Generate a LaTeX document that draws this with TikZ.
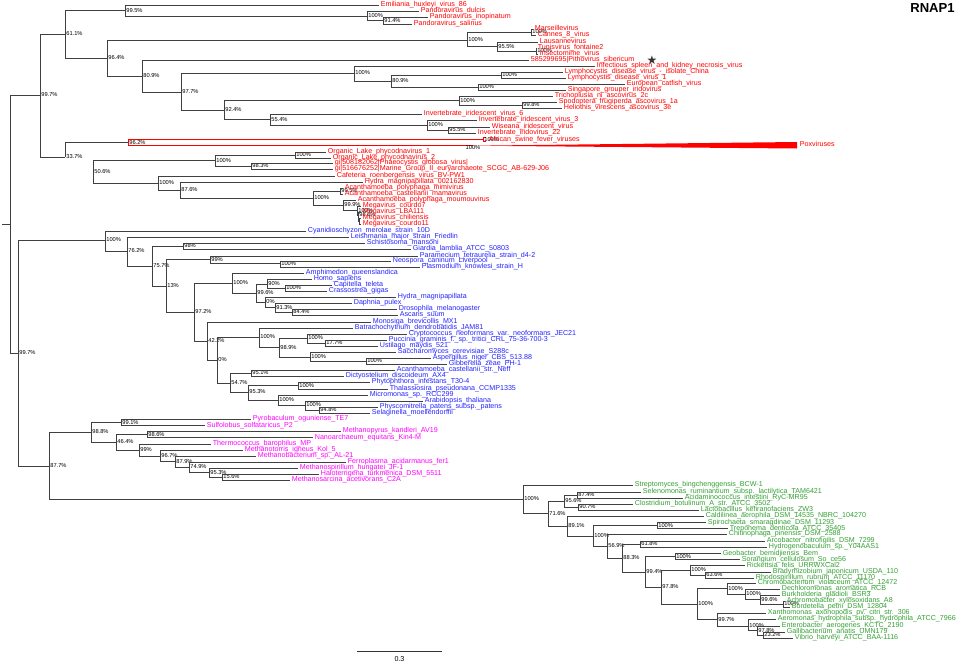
\documentclass[tikz,border=0pt]{standalone}
\usepackage{fontspec}
\setmainfont{Liberation Sans}
\newfontfamily\symfont{DejaVu Sans}
\usepackage{tikz}
\definecolor{Virus}{HTML}{FF0000}
\definecolor{Euk}{HTML}{2424FF}
\definecolor{Arch}{HTML}{FF00FF}
\definecolor{Bact}{HTML}{33A033}
\definecolor{Branch}{HTML}{404040}

\begin{document}
\begin{tikzpicture}[x=0.75pt,y=-0.75pt,
  br/.style={draw=Branch,line width=0.7pt},
  leaf/.style={anchor=west,inner xsep=1.2pt,inner ysep=0pt,text height=3.9pt,text depth=1pt,font=\fontsize{5.35}{6}\selectfont},
  bs/.style={anchor=west,inner sep=0.8pt,font=\fontsize{4.3}{5}\selectfont}]

\fill[white] (0,0) rectangle (965,664);
\useasboundingbox (0,0) rectangle (965,664);

% internal nodes (x of the split, y of the branch) with bootstrap support
\coordinate (base) at (2,224);
\coordinate (root) at (10,224);
\foreach \nm/\px/\py/\lab in {
  nA/40/95/99.7, nB/65/34/61.1, nC/125/10.5/99.5, nPan/367/16/100, nPan2/383/20.5/91.4,
  nD/107/58/96.4, nMar/467/40/100, nMar1/531/32/100, nLau/497/46.5/95.5, nTun/536/51/100,
  nE/142/76/80.9, nF/181/92/97.7, nIri/354/73/100, nLym/391/81/80.9, nLcd/501/75/100,
  nEcv/478/87/100, nG/224/110/92.4, nAsc/459/100.5/100, nAsc2/522/105/99.8,
  nH/270/119.5/55.4, nIiv/427/125/100, nWis/448/130/95.5,
  nK/65/157/33.7, nL/93/172/50.6, nPhy/215/160.5/100, nOlp/295/155/100, nPgv/251/166/98.3,
  nMim/158/183/100, nHyv/180/190/87.6, nMeg/313/198/100, nMam/340/191/99.5,
  nMou/343/205/99.9, nMv/357/210.5/100, nMv2/358/215/98.6,
  nR/18/353/99.7, nEuk/105/240/100, nT/127/251/76.2, nU/152/266/75.7, nSch/183/246/98,
  nV/166/286/13, nPar/210/259.5/99, nApi/280/263.5/100, nW/194/312/97.2,
  nMet/232/283/100, nBil/256/293/99.6, nHom/267/284/90, nCap/285/288/100,
  nHyd/265/302/0, nDap/275/307.5/91.3, nDro/292/312/84.4,
  nX/207/341/42.2, nY/217/360/0, nFun/259/337/100, nDik/279/347.5/98.9,
  nBas/307/338/100, nPuc/325/343/17.7, nAsm/310/357/100, nAsp/366/361/100,
  nZ/230/383/54.7, nAmo/251/373/95.1, nSar/248/392/95.3, nStr/298/385.5/100,
  nPla/278/400/100, nLan/305/405/100, nMos/319/410/94.8,
  nArc/49/466/87.7, nA1/91/432/98.8, nCre/121/422.5/99.1, nA2/116/442/46.4,
  nNan/147/434.5/98.6, nA3/139/450/99, nA4/160/456/96.7, nA5/175/461.5/87.9,
  nA6/189/467/74.9, nA7/209/472.5/95.3, nA8/222/477/15.6,
  nBac/523/499/100, nB1/548/513.5/71.6, nFir/564/501/95.6, nSel/577/495/87.4,
  nClo/578/507/90.7, nB2/567/526/89.1, nB3/593/536/100, nSpi/657/525.5/100,
  nB4/607/546/56.9, nB5/622/558/88.3, nArco/640/544/61.8, nB6/645/572/99.4,
  nGeo/675/556.5/100, nB7/661/587/97.8, nAlp/690/570/100, nBra/705/575/63.6,
  nB8/697/604/100, nBet/727/588.5/100, nBe2/745/594/100, nBe3/760/599.5/99.6,
  nBe4/783/604/100, nGam/717/619.5/99.7, nGa2/748/626/100, nGa3/757/630.5/97.8,
  nGa4/763/635/23.2}
  {\coordinate (\nm) at (\px,\py);
   \node[bs] at (\nm) {\lab\%};}
\coordinate (nMv3) at (359,221);

% leaves
\foreach \nm/\px/\py/\txt in {
  emil/379/5/Emiliania\_huxleyi\_virus\_86, pdul/419/11/Pandoravirus\_dulcis,
  pino/428/17/Pandoravirus\_inopinatum, psal/412/24/Pandoravirus\_salinus,
  mars/533/29/Marseillevirus, cann/536/35/Cannes\_8\_virus, laus/538/42/Lausannevirus,
  tuni/536/48/Tunisvirus\_fontaine2, inse/538/54/Insectomime\_virus,
  pith/529/60/585299695|Pithovirus\_sibericum,
  iskn/595/66/Infectious\_spleen\_and\_kidney\_necrosis\_virus,
  lcdc/563/72/Lymphocystis\_disease\_virus\_-\_isolate\_China,
  lcd1/566/78/Lymphocystis\_disease\_virus\_1, ecv/625/84/European\_catfish\_virus,
  sgiv/566/90/Singapore\_grouper\_iridovirus, tnav/553/96/Trichoplusia\_ni\_ascovirus\_2c,
  sfav/557/102/Spodoptera\_frugiperda\_ascovirus\_1a,
  hvav/562/108/Heliothis\_virescens\_ascovirus\_3e,
  iiv6/422/114/Invertebrate\_iridescent\_virus\_6, iiv3/477/120/Invertebrate\_iridescent\_virus\_3,
  wiv/490/127/Wiseana\_iridescent\_virus, iiv22/476/133/Invertebrate\_iridovirus\_22,
  olp1/326/152/Organic\_Lake\_phycodnavirus\_1, olp2/331/158/Organic\_Lake\_phycodnavirus\_2,
  pgv/333/163/gi|508182062|Phaeocystis\_globosa\_virus|,
  mgii/333/169/gi|516676252|Marine\_Group\_II\_euryarchaeote\_SCGC\_AB-629-J06,
  crov/335/176/Cafeteria\_roenbergensis\_virus\_BV-PW1,
  hydv/363/182/Hydra\_magnipapillata\_002162830,
  mimi/343/188/Acanthamoeba\_polyphaga\_mimivirus,
  mama/343/194/Acanthamoeba\_castellanii\_mamavirus,
  moum/356/200/Acanthamoeba\_polyphaga\_moumouvirus,
  mvc7/361/206/Megavirus\_courdo7, mlba/361/212/Megavirus\_LBA111,
  mchi/361/218/Megavirus\_chiliensis, mc11/361/224/Megavirus\_courdo11}
  {\node[leaf,text=Virus] (\nm) at (\px,\py) {\txt};}

\foreach \nm/\px/\py/\txt in {
  cyan/306/231/Cyanidioschyzon\_merolae\_strain\_10D,
  leis/349/237/Leishmania\_major\_strain\_Friedlin, schi/365/243/Schistosoma\_mansoni,
  giar/411/249/Giardia\_lamblia\_ATCC\_50803, para/418/256/Paramecium\_tetraurelia\_strain\_d4-2,
  neos/391/261/Neospora\_caninum\_Liverpool, plas/420/267/Plasmodium\_knowlesi\_strain\_H,
  amph/304/273/Amphimedon\_queenslandica, homo/312/279/Homo\_sapiens,
  capi/332/285/Capitella\_teleta, cras/327/291/Crassostrea\_gigas,
  hydr/396/297/Hydra\_magnipapillata, daph/352/303/Daphnia\_pulex,
  dros/397/309/Drosophila\_melanogaster, asca/398/315/Ascaris\_suum,
  mono/371/322/Monosiga\_brevicollis\_MX1, batr/353/328/Batrachochytrium\_dendrobatidis\_JAM81,
  cryp/407/334/Cryptococcus\_neoformans\_var.\_neoformans\_JEC21,
  pucc/387/340/Puccinia\_graminis\_f.\_sp.\_tritici\_CRL\_75-36-700-3,
  usti/378/346/Ustilago\_maydis\_521, sacc/396/352/Saccharomyces\_cerevisiae\_S288c,
  aspe/431/358/Aspergillus\_niger\_CBS\_513.88, gibb/447/364/Gibberella\_zeae\_PH-1,
  acas/395/370/Acanthamoeba\_castellanii\_str.\_Neff, dict/344/376/Dictyostelium\_discoideum\_AX4,
  phyt/370/382/Phytophthora\_infestans\_T30-4, thal/388/389/Thalassiosira\_pseudonana\_CCMP1335,
  micr/368/395/Micromonas\_sp.\_RCC299, arab/423/401/Arabidopsis\_thaliana,
  phys/378/407/Physcomitrella\_patens\_subsp.\_patens, sela/370/413/Selaginella\_moellendorffii}
  {\node[leaf,text=Euk] (\nm) at (\px,\py) {\txt};}

\foreach \nm/\px/\py/\txt in {
  pyro/251/419/Pyrobaculum\_oguniense\_TE7, sulf/205/425.5/Sulfolobus\_solfataricus\_P2,
  mpyr/341/431/Methanopyrus\_kandleri\_AV19, nano/313/437.5/Nanoarchaeum\_equitans\_Kin4-M,
  ther/211/444/Thermococcus\_barophilus\_MP, mtor/243/450/Methanotorris\_igneus\_Kol\_5,
  mbac/256/456/Methanobacterium\_sp.\_AL-21, ferr/346/462/Ferroplasma\_acidarmanus\_fer1,
  mspi/298/468/Methanospirillum\_hungatei\_JF-1, halo/319/474/Haloterrigena\_turkmenica\_DSM\_5511,
  msar/290/480/Methanosarcina\_acetivorans\_C2A}
  {\node[leaf,text=Arch] (\nm) at (\px,\py) {\txt};}

\foreach \nm/\px/\py/\txt in {
  strp/633/485/Streptomyces\_bingchenggensis\_BCW-1,
  sele/641/492/Selenomonas\_ruminantium\_subsp.\_lactilytica\_TAM6421,
  acid/683/498/Acidaminococcus\_intestini\_RyC-MR95,
  clos/633/504/Clostridium\_botulinum\_A\_str.\_ATCC\_3502,
  lact/699/510/Lactobacillus\_kefiranofaciens\_ZW3,
  cald/704/516/Caldilinea\_aerophila\_DSM\_14535\_NBRC\_104270,
  spir/706/522.5/Spirochaeta\_smaragdinae\_DSM\_11293, trep/728/528.5/Treponema\_denticola\_ATCC\_35405,
  chit/727/534/Chitinophaga\_pinensis\_DSM\_2588, arco/765/541/Arcobacter\_nitrofigilis\_DSM\_7299,
  hydg/767/547/Hydrogenobaculum\_sp.\_Y04AAS1, geob/721/553.5/Geobacter\_bemidjiensis\_Bem,
  sora/740/559.5/Sorangium\_cellulosum\_So\_ce56, rick/745/565.5/Rickettsia\_felis\_URRWXCal2,
  brad/771/572/Bradyrhizobium\_japonicum\_USDA\_110, rhod/754/578/Rhodospirillum\_rubrum\_ATCC\_11170,
  chro/756/583/Chromobacterium\_violaceum\_ATCC\_12472, dech/780/589/Dechloromonas\_aromatica\_RCB,
  burk/780/595/Burkholderia\_gladioli\_BSR3, achr/785/601/Achromobacter\_xylosoxidans\_A8,
  bord/790/607/Bordetella\_petrii\_DSM\_12804,
  xant/766/613/Xanthomonas\_axonopodis\_pv.\_citri\_str.\_306,
  aero/776/619/Aeromonas\_hydrophila\_subsp.\_hydrophila\_ATCC\_7966,
  ente/780/626/Enterobacter\_aerogenes\_KCTC\_2190, gall/785/632/Gallibacterium\_anatis\_UMN179,
  vibr/793/638/Vibrio\_harveyi\_ATCC\_BAA-1116}
  {\node[leaf,text=Bact] (\nm) at (\px,\py) {\txt};}

% branches
\draw[br] (base) -- (root);
\foreach \pa/\ca/\cb in {
  root/nA/nR, nA/nB/nK, nB/nC/nD, nC/emil/nPan, nPan/pdul/nPan2, nPan2/pino/psal,
  nD/nMar/nE, nMar/nMar1/nLau, nMar1/mars/cann, nLau/laus/nTun, nTun/tuni/inse,
  nE/pith/nF, nF/nIri/nG, nIri/iskn/nLym, nLym/nLcd/nEcv, nLcd/lcdc/lcd1, nEcv/ecv/sgiv,
  nG/nAsc/nH, nAsc/tnav/nAsc2, nAsc2/sfav/hvav, nH/iiv6/nIiv, nIiv/iiv3/nWis, nWis/wiv/iiv22,
  nL/nPhy/nMim, nPhy/nOlp/nPgv, nOlp/olp1/olp2, nPgv/pgv/mgii,
  nMim/crov/nHyv, nHyv/hydv/nMeg, nMeg/nMam/nMou, nMam/mimi/mama, nMou/moum/nMv,
  nMv/mvc7/nMv2, nMv2/mlba/nMv3, nMv3/mchi/mc11,
  nR/nEuk/nArc, nEuk/cyan/nT, nT/leis/nU, nU/nSch/nV, nSch/schi/giar, nV/nPar/nW,
  nPar/para/nApi, nApi/neos/plas, nW/nMet/nX, nMet/amph/nBil, nBil/nHom/nHyd,
  nHom/homo/nCap, nCap/capi/cras, nHyd/hydr/nDap, nDap/daph/nDro, nDro/dros/asca,
  nX/mono/nY, nY/nFun/nZ, nFun/batr/nDik, nDik/nBas/nAsm, nBas/cryp/nPuc, nPuc/pucc/usti,
  nAsm/sacc/nAsp, nAsp/aspe/gibb, nZ/nAmo/nSar, nAmo/acas/dict, nSar/nStr/nPla,
  nStr/phyt/thal, nPla/micr/nLan, nLan/arab/nMos, nMos/phys/sela,
  nArc/nA1/nBac, nA1/nCre/nA2, nCre/pyro/sulf, nA2/nNan/nA3, nNan/mpyr/nano,
  nA3/ther/nA4, nA4/mtor/nA5, nA5/mbac/nA6, nA6/ferr/nA7, nA7/mspi/nA8, nA8/halo/msar,
  nBac/strp/nB1, nB1/nFir/nB2, nFir/nSel/nClo, nSel/sele/acid, nClo/clos/lact,
  nB2/cald/nB3, nB3/nSpi/nB4, nSpi/spir/trep, nB4/chit/nB5, nB5/nArco/nB6,
  nArco/arco/hydg, nB6/nGeo/nB7, nGeo/geob/sora, nB7/nAlp/nB8, nAlp/rick/nBra,
  nBra/brad/rhod, nB8/nBet/nGam, nBet/chro/nBe2, nBe2/dech/nBe3, nBe3/burk/nBe4,
  nBe4/achr/bord, nGam/xant/nGa2, nGa2/aero/nGa3, nGa3/ente/nGa4, nGa4/gall/vibr}
  {\draw[br] (\pa) |- (\ca) (\pa) |- (\cb);}

% ASFV and poxviruses, drawn in red
\coordinate (nPox) at (128,142.5);
\coordinate (asfv) at (483,139.3);
\coordinate (asfa) at (486,137.6);
\coordinate (asfb) at (486,141);
\coordinate (poxc) at (473,145.7);
\coordinate (poxt) at (797,142);
\coordinate (poxb) at (797,148.5);
\draw[br] (nK) |- (nPox);
\draw[line width=0.7pt,Virus] (nPox) |- (asfv) (nPox) |- (poxc);
\draw[line width=0.6pt,Virus] (asfv) |- (asfa) (asfv) |- (asfb);
\fill[Virus] (poxc) -- (poxt) -- (poxb) -- cycle;
\node[bs] at (nPox) {96.2\%};
\node[bs] at (asfv) {100\%};
\node[bs,below,yshift=1pt] at (poxc) {100\%};
\node[leaf,text=Virus] (asfl) at (487,140) {African\_swine\_fever\_viruses};
\node[leaf,text=Virus] (poxl) at (798,145) {Poxviruses};

\node[text=black!80,font=\symfont\fontsize{9}{9}\selectfont] (star) at (652,60) {★};
\node[font=\bfseries\fontsize{9.8}{10}\selectfont] (title) at (932.5,8.5) {RNAP1};

% scale bar
\coordinate (sbl) at (357,651);
\coordinate (sbr) at (442,651);
\draw[line width=0.7pt,black!80] (sbl) -- (sbr);
\node[font=\fontsize{5.35}{6}\selectfont] (sbt) at (399.5,659) {0.3};

\end{tikzpicture}
\end{document}
